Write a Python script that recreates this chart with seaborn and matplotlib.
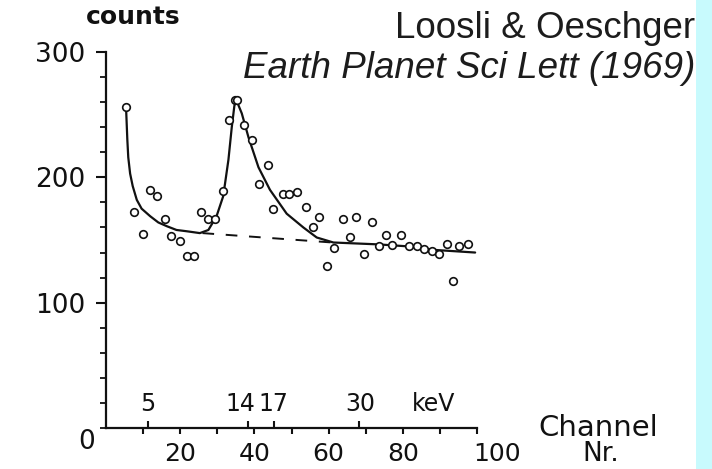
import matplotlib
matplotlib.use("Agg")
import matplotlib.pyplot as plt
from matplotlib.patches import Rectangle
from matplotlib.ticker import FixedLocator, FixedFormatter, MultipleLocator
import numpy as np
import pandas as pd
import seaborn as sns

# Measured spectrum: channel number vs counts
channels = [5.4, 7.5, 9.9, 11.9, 13.8, 15.9, 17.5, 19.9, 21.7, 23.8,
            25.5, 27.4, 29.3, 31.6, 33.2, 34.8, 35.4, 37.2, 39.4, 41.3,
            43.6, 45.1, 47.6, 49.4, 51.4, 53.8, 55.9, 57.4, 59.5, 61.5,
            63.8, 65.7, 67.3, 69.6, 71.8, 73.5, 75.4, 77.2, 79.5, 81.7,
            83.7, 85.8, 87.8, 89.8, 91.8, 93.4, 95.2, 97.5]
counts = [256, 172, 155, 190, 185, 167, 153, 149, 137, 137,
          172, 167, 167, 189, 246, 262, 262, 242, 230, 195,
          210, 175, 187, 187, 188, 176, 160, 168, 129, 144,
          167, 152, 168, 139, 164, 145, 154, 146, 154, 145,
          145, 143, 141, 139, 147, 117, 145, 147]

# Hand-drawn fit through the spectrum
fit_channels = [5.4, 5.75, 6.0, 6.5, 7.2, 8.3, 9.6, 11.9, 14.1, 16.4,
                19.0, 21.7, 25.3, 27.6, 29.8, 31.6, 33.0, 33.9, 34.6, 35.0,
                35.5, 36.6, 38.4, 41.1, 44.2, 48.7, 53.2, 56.8, 61.3, 73.4,
                81.0, 89.0, 99.5]
fit_counts = [256, 230, 216, 203, 193, 182, 175, 169, 164, 161,
              158, 157, 155.5, 158, 169, 185, 214, 240, 257, 261,
              259, 251, 232, 208, 190, 171, 160, 152, 148, 146.5,
              145, 142, 140]

# Background under the peak
base_channels = [26, 61]
base_counts = [155.5, 148]

# Energy scale markers
kev_labels = ["5", "14", "17", "30"]
kev_channels = [11.3, 38.3, 45.3, 68.2]

x_ticks = [10, 20, 30, 40, 50, 60, 70, 80, 90, 100]
x_tick_labels = ["", "20", "", "40", "", "60", "", "80", "", ""]
y_ticks = [100, 200, 300]

sns.set_style("white")
plt.rcParams["font.family"] = ["DejaVu Sans"]

ink = "#111111"

fig = plt.figure(figsize=(7.12, 4.69), dpi=100)
fig.patch.set_facecolor("white")
fig.patches.append(Rectangle((696 / 712, 0), 16 / 712, 1, transform=fig.transFigure,
                             facecolor="#c8fafd", edgecolor="none", zorder=0))

ax = fig.add_axes([106 / 712, 1 - 428 / 469, 371 / 712, 376 / 469])
ax.set_facecolor("none")

spec = pd.DataFrame({"channel": channels, "counts": counts})
fit = pd.DataFrame({"channel": fit_channels, "counts": fit_counts})
base = pd.DataFrame({"channel": base_channels, "counts": base_counts})

sns.lineplot(data=fit, x="channel", y="counts", sort=False, color=ink,
             linewidth=1.6, ax=ax, zorder=2)
sns.lineplot(data=base, x="channel", y="counts", sort=False, color=ink,
             linewidth=1.4, dashes=False, ax=ax, zorder=2)
ax.lines[-1].set_dashes((6, 6))
sns.scatterplot(data=spec, x="channel", y="counts", marker="o", s=30,
                facecolor="white", edgecolor=ink, linewidth=1.2, ax=ax, zorder=3)

ax.set_xlim(0, 100)
ax.set_ylim(0, 300)
ax.set_xlabel("")
ax.set_ylabel("")

for side in ["top", "right"]:
    ax.spines[side].set_visible(False)
for side in ["left", "bottom"]:
    ax.spines[side].set_linewidth(1.6)
    ax.spines[side].set_color(ink)

# Channel axis: ticks below, energy marks above
ax.xaxis.set_major_locator(FixedLocator(x_ticks))
ax.xaxis.set_major_formatter(FixedFormatter(x_tick_labels))
ax.xaxis.set_minor_locator(FixedLocator(kev_channels))
ax.tick_params(axis="x", which="major", direction="out", length=4, width=1.5,
               color=ink, labelsize=18, pad=6, labelcolor=ink, bottom=True)
ax.tick_params(axis="x", which="minor", direction="in", length=5, width=1.5,
               color=ink, bottom=True)

ax.yaxis.set_major_locator(FixedLocator(y_ticks))
ax.yaxis.set_major_formatter(FixedFormatter([str(v) for v in y_ticks]))
ax.yaxis.set_minor_locator(MultipleLocator(20))
ax.tick_params(axis="y", which="major", direction="out", length=7, width=1.5,
               color=ink, labelsize=19, pad=8, labelcolor=ink, left=True)
ax.tick_params(axis="y", which="minor", direction="out", length=4, width=1.3,
               color=ink, left=True)

def mark(text, xy, dx, dy, size=19, **kw):
    ax.annotate(text, xy=xy, xycoords="data", xytext=(dx, dy),
                textcoords="offset pixels", ha="center", va="center",
                fontsize=size, color=ink, annotation_clip=False, **kw)

mark("100", (100, 0), 20, -26, size=18)
mark("0", (0, 0), -19, -14)
mark("counts", (0, 300), 27, 35, size=18, fontweight="bold")
mark("Channel", (100, 0), 121, 0, size=21)
mark("Nr.", (100, 0), 124, -26, size=19)

kev_offsets = [0, -8, -1, 1]
for lab, ch, off in zip(kev_labels, kev_channels, kev_offsets):
    mark(lab, (ch, 0), off, 24, size=17)
mark("keV", (88.4, 0), 0, 24, size=17)

fig.text(695 / 712, 1 - 38 / 469, "Loosli & Oeschger", ha="right", va="baseline",
         fontsize=26.5, family="Liberation Sans", color="#1c1c1c")
fig.text(695 / 712, 1 - 78 / 469, "Earth Planet Sci Lett (1969)", ha="right",
         va="baseline", fontsize=26.5, family="Liberation Sans", style="italic",
         color="#1c1c1c")

fig.savefig("out.png", dpi=100)
